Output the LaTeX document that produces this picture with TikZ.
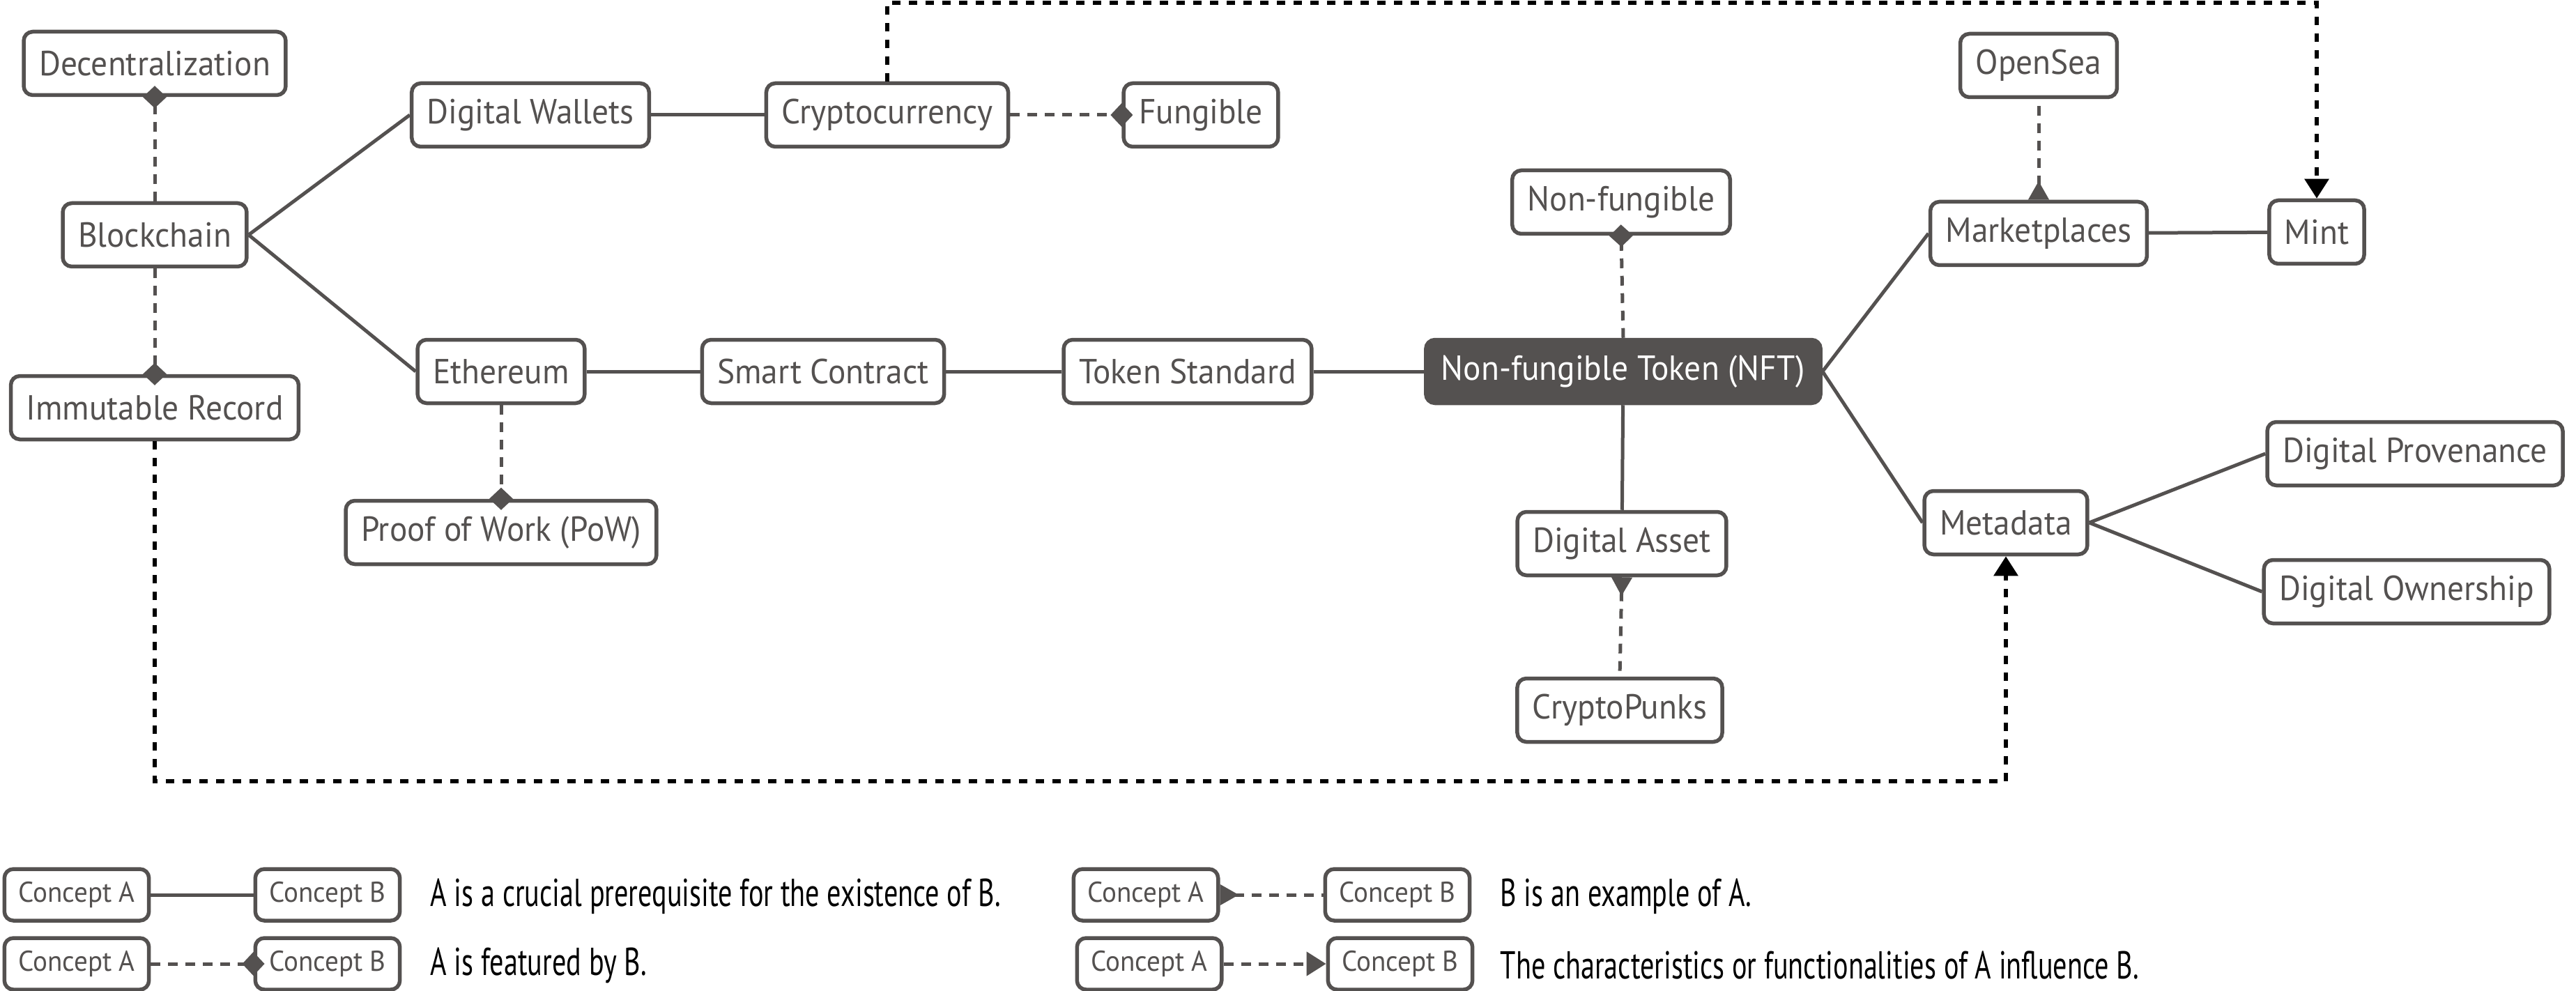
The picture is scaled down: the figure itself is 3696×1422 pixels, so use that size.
\documentclass[tikz,border=0pt]{standalone}
\usepackage{fontspec}
\setmainfont{PT Sans}[FakeStretch=0.95]
\newfontfamily\notefont{PT Sans}[FakeStretch=0.72]
\usetikzlibrary{arrows.meta,positioning}
\definecolor{nftgray}{RGB}{84,81,80}

\tikzset{
  concept/.style={draw=nftgray, line width=0.55mm, rounded corners=1.3mm, fill=white,
    text=nftgray, minimum height=9.1mm, inner xsep=2.2mm, inner ysep=0pt,
    font=\fontsize{14.2pt}{17pt}\selectfont},
  core/.style={concept, fill=nftgray, text=white},
  legendbox/.style={concept, minimum height=7.4mm, inner xsep=2mm,
    font=\fontsize{11.7pt}{14pt}\selectfont},
  note/.style={anchor=west, inner sep=0pt, text=black,
    font=\notefont\fontsize{15.9pt}{18pt}\selectfont},
  prereq/.style={draw=nftgray, line width=0.5mm},
  feature/.style={draw=nftgray, line width=0.5mm, dash pattern=on 1.4mm off 1.1mm,
    -{Diamond[length=3.2mm,width=3.4mm]}, shorten >=-1.6mm},
  example/.style={draw=nftgray, line width=0.5mm, dash pattern=on 1.4mm off 1.1mm,
    {Triangle[reversed,length=2.7mm,width=2.9mm]}-},
  influence/.style={draw=black, line width=0.6mm, dash pattern=on 1.2mm off 1.2mm,
    -{Triangle[length=2.8mm,width=3.4mm]}}
}

\begin{document}
\begin{tikzpicture}[x=0.1mm, y=-0.1mm]
  \useasboundingbox (0,0) rectangle (3696,1422);

  % Blockchain branch
  \node[concept] (dec) at (222,91) {Decentralization};
  \node[concept] (bc) at (222,337) {Blockchain};
  \node[concept] (imm) at (222,585) {Immutable Record};
  \node[concept] (dw) at (761,165) {Digital Wallets};
  \node[concept] (crypto) at (1273,165) {Cryptocurrency};
  \node[concept] (fung) at (1723,165) {Fungible};

  % Main chain
  \node[concept] (eth) at (719,533) {Ethereum};
  \node[concept] (pow) at (719,764) {Proof of Work (PoW)};
  \node[concept] (sc) at (1181,533) {Smart Contract};
  \node[concept] (ts) at (1704,533) {Token Standard};
  \node[core] (nft) at (2329,533) {Non-fungible Token (NFT)};
  \node[concept] (nonf) at (2326,290) {Non-fungible};
  \node[concept] (asset) at (2327,780) {Digital Asset};
  \node[concept] (punks) at (2324,1019) {CryptoPunks};

  % Right side
  \node[concept] (mkt) at (2925,335) {Marketplaces};
  \node[concept] (sea) at (2925,94) {OpenSea};
  \node[concept] (mint) at (3324,333) {Mint};
  \node[concept] (meta) at (2878,750) {Metadata};
  \node[concept] (prov) at (3465,651) {Digital Provenance};
  \node[concept] (own) at (3453,849) {Digital Ownership};

  % Prerequisites
  \draw[prereq] (bc.east) -- (dw.west);
  \draw[prereq] (bc.east) -- (eth.west);
  \draw[prereq] (dw) -- (crypto);
  \draw[prereq] (eth) -- (sc);
  \draw[prereq] (sc) -- (ts);
  \draw[prereq] (ts) -- (nft);
  \draw[prereq] (nft) -- (asset);
  \draw[prereq] (nft.east) -- (mkt.west);
  \draw[prereq] (nft.east) -- (meta.west);
  \draw[prereq] (mkt) -- (mint);
  \draw[prereq] (meta.east) -- (prov.west);
  \draw[prereq] (meta.east) -- (own.west);

  % Features
  \draw[feature] (bc.north) -- (dec.south);
  \draw[feature] (bc.south) -- (imm.north);
  \draw[feature] (eth.south) -- (pow.north);
  \draw[feature] (crypto.east) -- (fung.west);
  \draw[feature] (nft.north) -- (nonf.south);

  % Examples
  \draw[example] (asset.south) -- (punks.north);
  \draw[example] (mkt.north) -- (sea.south);

  % Influence
  \coordinate (top) at (0,4);
  \coordinate (bot) at (0,1121);
  \draw[influence] (crypto.north) -- (crypto.north |- top) -| (mint.north);
  \draw[influence] (imm.south) -- (imm.south |- bot) -| (meta.south);

  % Legend
  \node[legendbox] (la1) at (110,1284) {Concept A};
  \node[legendbox] (lb1) at (470,1284) {Concept B};
  \node[legendbox] (la2) at (110,1383) {Concept A};
  \node[legendbox] (lb2) at (470,1383) {Concept B};
  \node[legendbox] (la3) at (1644,1284) {Concept A};
  \node[legendbox] (lb3) at (2005,1284) {Concept B};
  \node[legendbox] (la4) at (1649,1383) {Concept A};
  \node[legendbox] (lb4) at (2009,1383) {Concept B};
  \draw[prereq] (la1) -- (lb1);
  \draw[feature] (la2) -- (lb2);
  \draw[example] (la3) -- (lb3);
  \draw[influence, draw=nftgray, line width=0.5mm, dash pattern=on 1.4mm off 1.1mm] (la4) -- (lb4);
  \node[note] (note1) at (617,1286) {A is a crucial prerequisite for the existence of B.};
  \node[note] (note2) at (617,1385) {A is featured by B.};
  \node[note] (note3) at (2152,1286) {B is an example of A.};
  \node[note] (note4) at (2152,1385) {The characteristics or functionalities of A influence B.};
\end{tikzpicture}
\end{document}
